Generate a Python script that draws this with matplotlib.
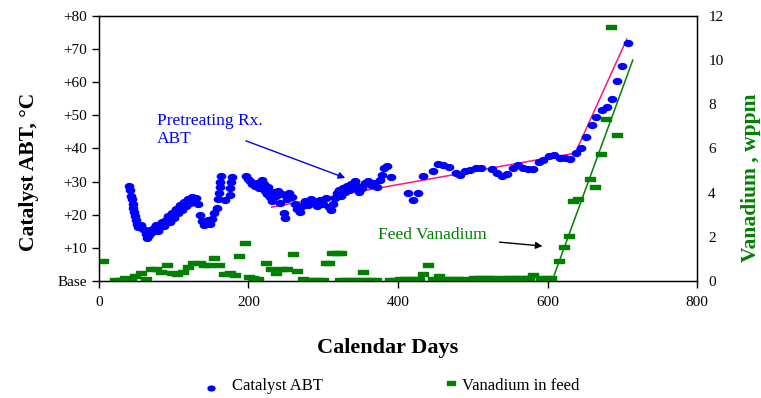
import matplotlib.pyplot as plt
import numpy as np
from matplotlib.path import Path
from matplotlib.lines import Line2D

# catalyst ABT readings (day, deg C above base)
abt_days = [40.1, 41.5, 42.8, 44.1, 45.5, 45.5, 46.8, 48.2, 49.5, 50.8, 52.2, 56.2, 58.9, 62.9,
            64.2, 66.9, 68.2, 70.9, 73.6, 76.3, 78.9, 81.6, 84.3, 87.0, 89.6, 92.3, 95.0, 97.7,
            100.3, 103.0, 105.7, 108.4, 111.0, 113.7, 116.4, 119.1, 121.7, 124.4, 127.1, 129.8,
            132.4, 135.1, 137.8, 140.5, 143.2, 145.8, 148.5, 151.2, 153.8, 157.9, 159.2, 160.5,
            161.9, 161.9, 163.2, 168.6, 175.3, 175.3, 176.6, 177.9, 196.7, 199.3, 202.0, 204.7,
            208.7, 211.4, 214.0, 218.1, 220.7, 222.1, 224.7, 226.1, 228.8, 231.4, 234.1, 236.8,
            239.5, 242.1, 244.8, 247.5, 248.8, 251.5, 254.2, 258.2, 262.2, 264.9, 268.9, 271.6,
            275.6, 279.6, 283.6, 287.6, 291.6, 295.6, 299.6, 303.7, 307.7, 310.4, 313.0, 315.7,
            318.4, 321.1, 323.7, 326.4, 329.1, 331.8, 334.4, 337.1, 339.8, 342.5, 345.2, 347.8,
            351.8, 355.9, 359.9, 363.9, 367.9, 371.9, 375.9, 378.6, 381.3, 385.3, 390.6, 413.4,
            420.1, 426.8, 433.4, 446.8, 453.5, 460.2, 468.2, 477.6, 482.9, 489.6, 496.3, 504.4,
            511.0, 525.8, 532.4, 539.1, 545.8, 553.9, 560.5, 567.2, 573.9, 580.6, 588.6, 594.0,
            602.0, 608.7, 616.7, 623.4, 630.1, 638.1, 644.8, 651.5, 659.5, 664.9, 672.9, 679.6,
            686.3, 693.0, 699.7, 707.7]
abt_vals = [28.7, 27.5, 25.7, 24.8, 23.2, 22.0, 20.8, 19.6, 18.4, 17.2, 16.3, 16.9, 15.7, 14.2,
            13.0, 13.9, 15.4, 14.8, 16.0, 16.9, 15.1, 16.3, 17.8, 16.6, 18.4, 19.6, 17.8, 20.5,
            19.0, 21.7, 20.5, 22.9, 21.4, 23.8, 22.6, 24.8, 23.5, 25.4, 24.2, 25.1,
            23.2, 19.9, 18.1, 16.9, 17.5, 18.4, 17.2, 18.7, 20.5, 22.0, 24.8, 26.6,
            28.4, 29.9, 31.7, 24.5, 26.0, 28.1, 29.9, 31.4, 31.7, 30.8, 30.2, 29.3,
            28.7, 29.6, 28.1, 30.5, 29.3, 27.2, 26.3, 28.4, 25.4, 24.2, 26.9, 25.7,
            27.2, 23.5, 26.3, 20.5, 19.0, 24.8, 26.6, 25.4, 23.2, 21.7, 20.8, 22.6,
            24.2, 22.9, 24.8, 23.8, 22.6, 24.5, 23.2, 25.1, 22.3, 21.4, 23.2, 25.1,
            26.6, 27.5, 25.7, 28.1, 26.9, 28.7, 27.5, 29.3, 28.1, 30.2, 28.7, 26.9,
            28.1, 29.6, 30.2, 29.0, 29.6, 28.4, 30.5, 32.0, 34.1, 34.7, 31.4, 26.6,
            24.5, 26.6, 31.7, 33.2, 35.3, 35.0, 34.4, 32.6, 32.0, 33.2, 33.5, 34.1,
            34.1, 33.8, 32.6, 31.7, 32.3, 34.1, 35.0, 34.1, 33.8, 33.8, 35.9, 36.5,
            37.7, 38.0, 37.1, 37.1, 36.8, 38.6, 40.2, 43.5, 47.1, 49.5, 51.6, 52.5,
            54.9, 60.4, 64.9, 71.8]

# vanadium in feed (day, wppm)
v_days = [5, 21.4, 28.1, 34.8, 42.8, 48.2, 56.2, 62.9, 69.6, 76.3, 82.9, 91.0, 97.7, 104.3,
          112.4, 119.1, 125.8, 135.1, 140.5, 147.2, 153.8, 160.5, 167.2, 175.3, 181.9, 187.3,
          195.3, 200.7, 206.0, 212.7, 223.4, 230.1, 236.8, 244.8, 251.5, 259.5, 264.9, 272.9,
          279.6, 286.3, 293.0, 299.7, 303.7, 307.7, 311.7, 318.4, 323.7, 322.4, 329.1, 335.8,
          342.5, 349.2, 353.2, 357.2, 363.9, 370.5, 389.3, 396.0, 402.7, 409.4, 416.0, 422.8,
          428.1, 433.4, 440.1, 446.8, 454.8, 460.2, 466.9, 473.6, 480.3, 487.0, 501.7, 508.4,
          515.0, 521.7, 528.4, 541.8, 548.5, 555.2, 561.9, 568.6, 575.3, 580.6, 591.3, 598.0,
          604.6, 615.4, 622.1, 628.7, 634.1, 640.8, 656.8, 663.5, 671.6, 678.2, 684.9, 693.0]
v_vals = [0.9, 0.05, 0.05, 0.14, 0.02, 0.23, 0.36, 0.09, 0.54, 0.54, 0.41, 0.72, 0.36, 0.32,
          0.41, 0.63, 0.82, 0.82, 0.72, 0.72, 1.04, 0.72, 0.32, 0.36, 0.27, 1.13,
          1.72, 0.18, 0.14, 0.09, 0.82, 0.54, 0.36, 0.54, 0.54, 1.22, 0.45, 0.09,
          0.05, 0.05, 0.05, 0.05, 0.82, 0.82, 1.27, 1.27, 1.27, 0.05, 0.05, 0.05,
          0.05, 0.05, 0.41, 0.05, 0.05, 0.05, 0.05, 0.05, 0.09, 0.09, 0.09, 0.09,
          0.09, 0.32, 0.72, 0.09, 0.23, 0.09, 0.09, 0.09, 0.09, 0.09, 0.14, 0.14,
          0.14, 0.14, 0.14, 0.14, 0.14, 0.14, 0.14, 0.14, 0.14, 0.27, 0.14, 0.14,
          0.14, 0.91, 1.54, 2.04, 3.62, 3.71, 4.62, 4.26, 5.75, 7.34, 11.5, 6.61]

# trend lines
abt_trend_days = [231, 637, 706]
abt_trend_vals = [22.3, 38.6, 73.0]
v_trend_days = [606, 714]
v_trend_vals = [0.0, 10.0]

left_ticks = [0, 10, 20, 30, 40, 50, 60, 70, 80]
left_labels = ['Base', '+10', '+20', '+30', '+40', '+50', '+60', '+70', '+80']

plt.rcParams['font.family'] = ['Liberation Serif', 'DejaVu Serif']

circ = Path.unit_circle()
ellipse = Path(circ.vertices * np.array([1.0, 0.7]), circ.codes)
dash = Path([(-1, -0.4), (1, -0.4), (1, 0.4), (-1, 0.4), (-1, -0.4)],
            [Path.MOVETO, Path.LINETO, Path.LINETO, Path.LINETO, Path.CLOSEPOLY])

fig = plt.figure(figsize=(7.61, 3.98), dpi=100)
ax = fig.add_axes([0.130, 0.294, 0.786, 0.666])
ax2 = ax.twinx()

ax.plot(abt_days, abt_vals, linestyle='none', marker=ellipse, ms=6,
        color='#0000ff', zorder=3)
ax.plot(abt_trend_days, abt_trend_vals, color='#ff1480', lw=1.1, zorder=2)

ax2.plot(v_days, v_vals, linestyle='none', marker=dash, ms=6.5, color='#008000')
ax2.plot(v_trend_days, v_trend_vals, color='#008000', lw=1.1)

ax.set_xlim(0, 800)
ax.set_ylim(0, 80)
ax2.set_ylim(0, 12)
ax.set_xticks([0, 200, 400, 600, 800])
ax.set_yticks(left_ticks)
ax.set_yticklabels(left_labels)
ax2.set_yticks([0, 2, 4, 6, 8, 10, 12])
ax.tick_params(labelsize=11, length=5, width=1)
ax.tick_params(axis='x', pad=6)
ax2.tick_params(labelsize=11, length=0, pad=8)
for sp in ax.spines.values():
    sp.set_linewidth(1)

ax.set_ylabel('Catalyst ABT, °C', fontsize=15.5, fontweight='bold')
ax.yaxis.set_label_coords(-0.100, 0.41)
ax2.set_ylabel('Vanadium , wppm', fontsize=15.5, fontweight='bold', color='#008000')
ax2.yaxis.set_label_coords(1.073, 0.39)
ax.set_xlabel('Calendar Days', fontsize=16, fontweight='bold')
ax.xaxis.set_label_coords(0.483, -0.215)

# annotations
ax.text(78, 45.5, 'Pretreating Rx.\nABT', color='#0000ff', fontsize=12.5,
        va='center', ha='left', linespacing=1.2)
ax.annotate('', xy=(333, 30.8), xytext=(193, 42.6),
            arrowprops=dict(arrowstyle='-|>', color='#0000ff', lw=1, mutation_scale=10))
ax.text(373, 13.9, 'Feed Vanadium', color='#008000', fontsize=12.5, va='center', ha='left')
ax2.annotate('', xy=(597, 1.57), xytext=(532, 1.77),
             arrowprops=dict(arrowstyle='-|>', color='black', lw=1, mutation_scale=10))

# legend drawn below the plot
fig.add_artist(Line2D([211 / 761], [1 - 388 / 398], linestyle='none', marker=ellipse,
                      ms=5, color='#0000ff'))
fig.text(232 / 761, 1 - 386 / 398, 'Catalyst ABT', fontsize=12, va='center', ha='left')
fig.add_artist(Line2D([451 / 761], [1 - 383 / 398], linestyle='none', marker=dash,
                      ms=6, color='#008000'))
fig.text(462 / 761, 1 - 386 / 398, 'Vanadium in feed', fontsize=12, va='center', ha='left')

fig.savefig('out.png', dpi=100)
